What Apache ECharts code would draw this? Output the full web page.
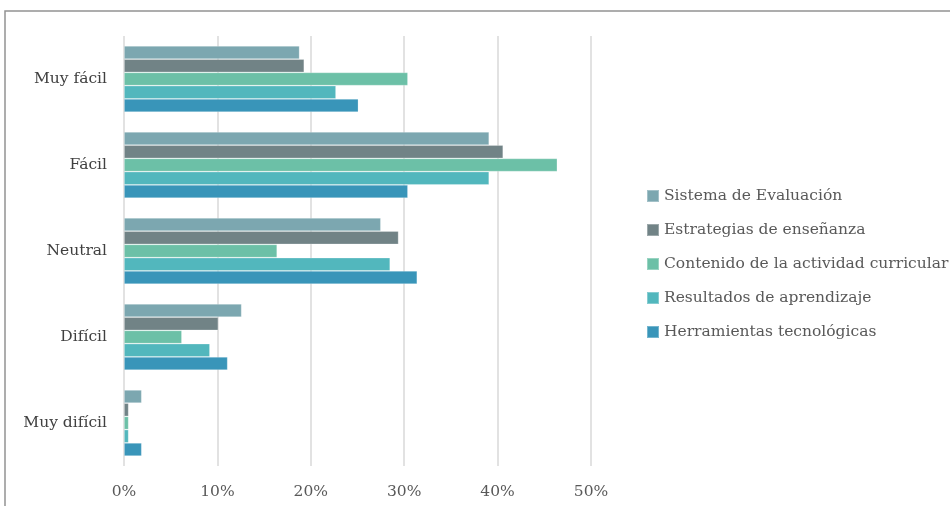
<!DOCTYPE html>
<html>
<head>
<meta charset="utf-8">
<style>
  html, body { margin: 0; padding: 0; background: #ffffff; }
  #chart { width: 950px; height: 506px; }
</style>
<script src="https://cdn.jsdelivr.net/npm/echarts@6/dist/echarts.min.js"></script>
</head>
<body>
<div id="chart"></div>
<script>
// Response categories (top to bottom)
const categories = ['Muy fácil', 'Fácil', 'Neutral', 'Difícil', 'Muy difícil'];

// Percentages per aspect evaluated
const seriesNames = [
  'Sistema de Evaluación',
  'Estrategias de enseñanza',
  'Contenido de la actividad curricular',
  'Resultados de aprendizaje',
  'Herramientas tecnológicas'
];
const sistemaEvaluacion      = [18.8, 39.1, 27.5, 12.6, 1.9];
const estrategiasEnsenanza   = [19.3, 40.6, 29.4, 10.1, 0.5];
const contenidoActividad     = [30.4, 46.4, 16.4, 6.2, 0.5];
const resultadosAprendizaje  = [22.7, 39.1, 28.5, 9.2, 0.5];
const herramientasTecno      = [25.1, 30.4, 31.4, 11.1, 1.9];

const xTicks = [0, 10, 20, 30, 40, 50];

const colors = ['#7ca7b0', '#718386', '#6cc0a7', '#52b7bd', '#3995b9'];
const values = [sistemaEvaluacion, estrategiasEnsenanza, contenidoActividad, resultadosAprendizaje, herramientasTecno];

const fontFamily = 'DejaVu Serif';

const chart = echarts.init(document.getElementById('chart'), null, { renderer: 'canvas' });

chart.setOption({
  animation: false,
  color: colors,
  graphic: [{
    type: 'rect',
    shape: { x: 5, y: 11, width: 960, height: 520 },
    style: { fill: 'none', stroke: '#939393', lineWidth: 1.5 },
    silent: true
  }],
  grid: { left: 124, top: 36, width: 467, height: 430, containLabel: false },
  legend: {
    orient: 'vertical',
    left: 641,
    top: 183,
    itemWidth: 12,
    itemHeight: 12,
    itemGap: 18,
    icon: 'rect',
    data: seriesNames,
    textStyle: { fontFamily, fontSize: 15.5, color: '#595959' }
  },
  xAxis: {
    type: 'value',
    min: 0,
    max: 50,
    interval: 10,
    axisLine: { show: false },
    axisTick: { show: false },
    splitLine: { lineStyle: { color: '#d9d9d9', width: 1.5 } },
    axisLabel: {
      fontFamily, fontSize: 15.5, color: '#595959', margin: 18,
      formatter: v => (xTicks.includes(v) ? v + '%' : '')
    }
  },
  yAxis: {
    type: 'category',
    data: categories,
    inverse: true,
    axisLine: { show: false },
    axisTick: { show: false },
    axisLabel: { fontFamily, fontSize: 15.5, color: '#404040', margin: 17 }
  },
  series: seriesNames.map((name, i) => ({
    name,
    type: 'bar',
    data: values[i],
    barGap: '0%',
    barCategoryGap: '23%',
    itemStyle: { color: colors[i], borderColor: 'rgba(255,255,255,0.3)', borderWidth: 0.8 }
  }))
});
</script>
</body>
</html>
